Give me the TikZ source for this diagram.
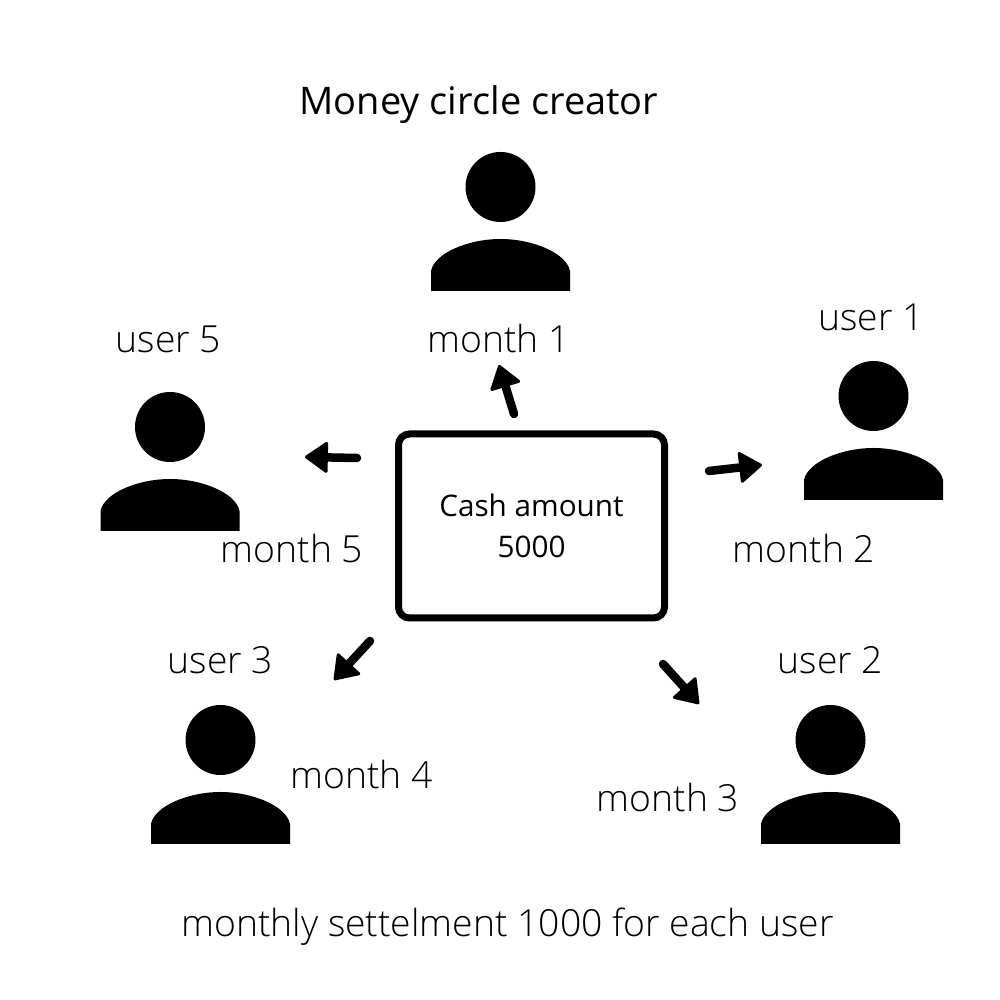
\documentclass[tikz,border=0pt]{standalone}
\usepackage{fontspec}
\setmainfont{Open Sans Light}
\newfontfamily\titlefont{Open Sans}
\usetikzlibrary{arrows.meta}
\tikzset{
  person/.pic={
    \fill (0,0) circle (35);
    \fill (-69.5,-104) -- (-69.5,-84) .. controls (-66,-66) and (-32,-52) .. (0,-52)
      .. controls (32,-52) and (66,-66) .. (69.5,-84) -- (69.5,-104) -- cycle;
  },
  lbl/.style={anchor=base,inner sep=0pt,font=\fontsize{37.3}{37.3}\selectfont},
  cashbox/.style={draw,line width=7,rounded corners=11,minimum width=266,minimum height=184,inner sep=0pt,align=center,font=\fontsize{29.7}{41}\titlefont},
  monthar/.style={line width=8.5,line cap=round,-{Triangle[length=24,width=33,round,line width=3]}}
}
\begin{document}
\begin{tikzpicture}[x=1pt,y=1pt]
\useasboundingbox (0,0) rectangle (1000,1000);
\fill[white] (0,0) rectangle (1000,1000);

\pic (creator) at (500.5,813) {person};
\pic (user1) at (873.5,604) {person};
\pic (user2) at (830.5,260) {person};
\pic (user3) at (220.5,260) {person};
\pic (user5) at (170,573) {person};

\node (cash) at (531.5,474) [cashbox] {Cash amount\\5000};

\node (title) at (479,885) [lbl,font=\fontsize{38}{38}\titlefont] {Money circle creator};
\node (m1) at (498.5,647) [lbl] {month 1};
\node (m2) at (804,437) [lbl] {month 2};
\node (m3) at (668,188) [lbl] {month 3};
\node (m4) at (361.5,211) [lbl] {month 4};
\node (m5) at (292,437) [lbl] {month 5};
\node (u1) at (871,669) [lbl] {user 1};
\node (u2) at (830.5,326) [lbl] {user 2};
\node (u3) at (220.5,326) [lbl] {user 3};
\node (u5) at (168.5,647) [lbl] {user 5};
\node (settle) at (507.5,63) [lbl] {monthly settelment 1000 for each user};

\coordinate (a1) at (514,586);
\coordinate (b1) at (499,635);
\coordinate (a2) at (709,529);
\coordinate (b2) at (762,535);
\coordinate (a3) at (663,336);
\coordinate (b3) at (699,296);
\coordinate (a4) at (370,359);
\coordinate (b4) at (334,320);
\coordinate (a5) at (357,542);
\coordinate (b5) at (305,543);
\draw [monthar] (a1) to (b1);
\draw [monthar] (a2) to (b2);
\draw [monthar] (a3) to (b3);
\draw [monthar] (a4) to (b4);
\draw [monthar] (a5) to (b5);
\end{tikzpicture}
\end{document}
